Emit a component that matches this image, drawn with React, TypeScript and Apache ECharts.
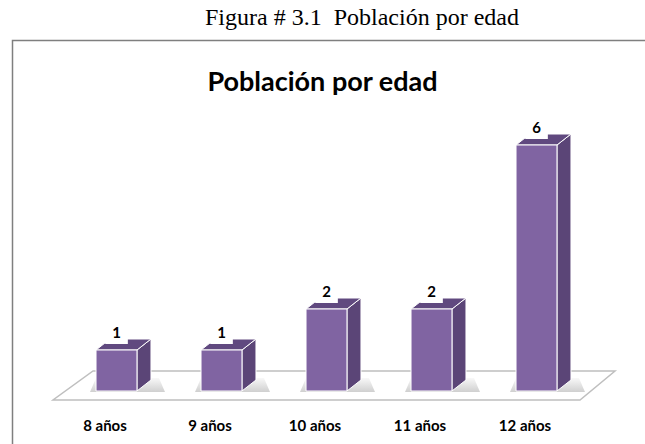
import React, { useEffect, useRef } from "react";
import * as echarts from "echarts";

const captionText = "Figura # 3.1  Población por edad";
const titleText = "Población por edad";
const categories = ["8 años", "9 años", "10 años", "11 años", "12 años"];
const values = [1, 1, 2, 2, 6];

const FRONT = "#8064A2";
const SIDE = "#5B4577";
const TOP = "#60497F";
const DX = 14;
const DY = 11;
const SHIFT = 11.5;

export default function App() {
  const ref = useRef<HTMLDivElement>(null);
  useEffect(() => {
    if (!ref.current) return;
    const chart = echarts.init(ref.current, null, { renderer: "svg" });
    const option: any = {
      animation: false,
      backgroundColor: "#ffffff",
      title: [
        {
          text: captionText,
          left: 200,
          top: 0,
          textStyle: { fontFamily: "Liberation Serif", fontSize: 24, fontWeight: "normal", color: "#000" },
        },
        {
          text: titleText,
          left: "center",
          top: 62,
          textStyle: { fontFamily: "Lato", fontSize: 27, fontWeight: "bold", color: "#000" },
        },
      ],
      graphic: [
        {
          type: "polyline",
          shape: { points: [[12.5, 444], [12.5, 40.5], [645, 40.5]] },
          style: { stroke: "#7f7f7f", lineWidth: 1.5, fill: null },
          z: 10,
        },
      ],
      grid: { left: 52.5, right: 67.5, top: 145, bottom: 53 },
      xAxis: {
        type: "category",
        data: categories,
        axisLine: { show: false },
        axisTick: { show: false },
        axisLabel: { fontFamily: "Lato", fontWeight: "bold", fontSize: 15, color: "#000", margin: 26 },
      },
      yAxis: { type: "value", min: 0, max: 6, show: false, splitLine: { show: false } },
      series: [
        {
          type: "custom",
          z: 1,
          data: [[0, 0]],
          renderItem: (params: any, api: any) => {
            const bw = api.size([1, 0])[0];
            const first = api.coord([0, 0]);
            const last = api.coord([categories.length - 1, 0]);
            const base = first[1];
            const pts = [
              [first[0] - bw * 0.495, base + 9],
              [last[0] + bw * 0.524, base + 9],
              [last[0] + bw * 0.857, base - 20],
              [first[0] - bw * 0.114, base - 20],
            ];
            return {
              type: "polygon",
              shape: { points: pts },
              style: { fill: "#ffffff", stroke: "#bfbfbf", lineWidth: 1.5 },
            };
          },
        },
        {
          type: "custom",
          z: 2,
          data: values.map((v, i) => [i, v]),
          renderItem: (params: any, api: any) => {
            const i = api.value(0);
            const v = api.value(1);
            const base = api.coord([i, 0]);
            const top = api.coord([i, v]);
            const bw = api.size([1, 0])[0] * 0.39;
            const cx = base[0] + SHIFT;
            const x0 = cx - bw / 2;
            const x1 = cx + bw / 2;
            const yb = base[1];
            const yt = top[1];
            return {
              type: "group",
              children: [
                {
                  type: "polygon",
                  shape: {
                    points: [
                      [x0 - 6, yb + 1],
                      [x1 + DX + 14, yb + 1],
                      [x1 + DX + 8, yb - DY - 2],
                      [x0, yb - DY - 2],
                    ],
                  },
                  style: {
                    fill: {
                      type: "linear", x: 0, y: 0, x2: 0, y2: 1,
                      colorStops: [
                        { offset: 0, color: "rgba(120,120,120,0.05)" },
                        { offset: 1, color: "rgba(120,120,120,0.35)" },
                      ],
                    },
                  },
                },
                {
                  type: "polygon",
                  shape: { points: [[x1, yt], [x1 + DX, yt - DY], [x1 + DX, yb - DY], [x1, yb]] },
                  style: { fill: SIDE, stroke: "#ffffff", lineWidth: 1 },
                },
                {
                  type: "polygon",
                  shape: { points: [[x0, yt], [x0 + DX, yt - DY], [x1 + DX, yt - DY], [x1, yt]] },
                  style: { fill: TOP, stroke: "#ffffff", lineWidth: 1 },
                },
                {
                  type: "rect",
                  shape: { x: x0, y: yt, width: bw, height: yb - yt },
                  style: { fill: FRONT, stroke: "#ffffff", lineWidth: 1 },
                },
                {
                  type: "text",
                  x: cx,
                  y: yt - 6,
                  style: {
                    text: String(v),
                    fontFamily: "Lato",
                    fontWeight: "bold",
                    fontSize: 15,
                    fill: "#000",
                    align: "center",
                    verticalAlign: "bottom",
                    backgroundColor: "#ffffff",
                    padding: [3, 7, 5, 7],
                  },
                },
              ],
            };
          },
        },
      ],
    };
    chart.setOption(option);
    return () => chart.dispose();
  }, []);
  return (
    <div
      ref={ref}
      style={{ position: "absolute", left: 0, top: 0, width: 645, height: 444 }}
    />
  );
}
